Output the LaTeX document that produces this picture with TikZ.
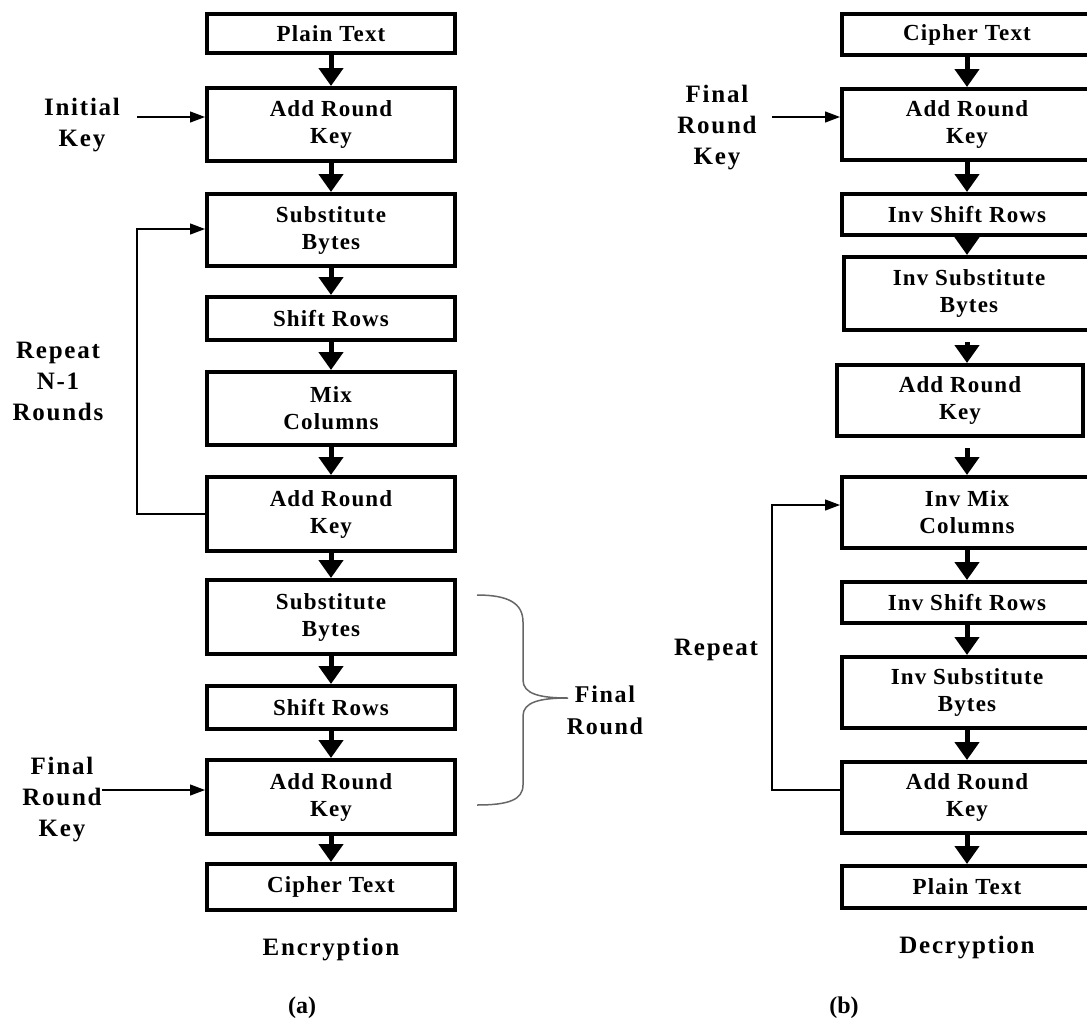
\documentclass[tikz,border=0pt]{standalone}
\usepackage{fontspec}
\setmainfont{Liberation Serif}
\newfontfamily\boxfont{Liberation Serif}[LetterSpace=5]
\newfontfamily\labfont{Liberation Serif}[LetterSpace=7]
\usetikzlibrary{arrows.meta}
\begin{document}
\begin{tikzpicture}[x=1pt,y=-1pt,
  stepbox/.style={draw, line width=4pt, minimum width=248pt, inner sep=0pt,
    align=center, font=\boxfont\bfseries\fontsize{23}{27}\selectfont},
  rbox/.style={stepbox, minimum width=250pt},
  flow/.style={line width=5pt, -{Triangle[width=24pt,length=18pt]}},
  feed/.style={line width=1.2pt, -{Triangle[width=11pt,length=15pt]}},
  lab/.style={align=center, font=\labfont\bfseries\fontsize{25}{31}\selectfont},
  subcap/.style={font=\bfseries\fontsize{24}{28}\selectfont},
  brace/.style={line width=1.5pt, draw=black!60},
]
\useasboundingbox (0,0) rectangle (1087,1026);

% ---------------- Encryption column ----------------
\node[stepbox, minimum height=39pt] (l1) at (331,33.5) {Plain Text};
\node[stepbox, minimum height=73pt] (l2) at (331,124.5) {Add Round\\Key};
\node[stepbox, minimum height=72pt] (l3) at (331,230) {Substitute\\Bytes};
\node[stepbox, minimum height=43pt] (l4) at (331,318.5) {Shift Rows};
\node[stepbox, minimum height=73pt] (l5) at (331,408.5) {Mix\\Columns};
\node[stepbox, minimum height=74pt] (l6) at (331,514) {Add Round\\Key};
\node[stepbox, minimum height=74pt] (l7) at (331,617) {Substitute\\Bytes};
\node[stepbox, minimum height=43pt] (l8) at (331,707.5) {Shift Rows};
\node[stepbox, minimum height=74pt] (l9) at (331,797) {Add Round\\Key};
\node[stepbox, minimum height=46pt] (l10) at (331,887) {Cipher Text};

\foreach \a/\b in {l1/l2,l2/l3,l3/l4,l4/l5,l5/l6,l6/l7,l7/l8,l8/l9,l9/l10}
  \draw[flow] (\a.south) -- (\b.north);

\node[lab] (ikey) at (82,125) {Initial\\Key};
\coordinate (ik) at (137,117);
\draw[feed] (ik) -- (ik -| l2.west);

\node[lab] (rep1) at (58,381) {Repeat\\N-1\\Rounds};
\coordinate (ll1) at (137,514);
\coordinate (ll2) at (137,229);
\draw[feed] (ll1 -| l6.west) -- (ll1) -- (ll2) -- (ll2 -| l3.west);

\node[lab] (fkl) at (62,800) {Final\\Round\\Key};
\coordinate (fk) at (102,790);
\draw[feed] (fk) -- (fk -| l9.west);

% brace grouping the final round
\draw[brace] (477,595) .. controls (508,595) and (523,603) .. (523,622)
  -- (523,680) .. controls (523,694) and (540,698) .. (568,698)
  .. controls (540,698) and (523,702) .. (523,716)
  -- (523,785) .. controls (523,800) and (508,805) .. (477,805);
\node[lab, font=\labfont\bfseries\fontsize{24}{32}\selectfont] (frnd) at (605,710) {Final\\Round};

\node[lab] (enc) at (331,950) {Encryption};
\node[subcap] (capa) at (302,1008) {(a)};

% ---------------- Decryption column ----------------
\node[rbox, minimum height=41pt] (r1) at (967,34.5) {Cipher Text};
\node[rbox, minimum height=71pt] (r2) at (967,124.5) {Add Round\\Key};
\node[rbox, minimum height=41pt] (r3) at (967,214.5) {Inv Shift Rows};
\node[rbox, minimum height=73pt] (r4) at (969,293.5) {Inv Substitute\\Bytes};
\node[stepbox, minimum height=71pt, minimum width=246pt] (r5) at (960,400.5) {Add Round\\Key};
\node[rbox, minimum height=71pt] (r6) at (967,512.5) {Inv Mix\\Columns};
\node[rbox, minimum height=41pt] (r7) at (967,602.5) {Inv Shift Rows};
\node[rbox, minimum height=71pt] (r8) at (967,692.5) {Inv Substitute\\Bytes};
\node[rbox, minimum height=71pt] (r9) at (967,797.5) {Add Round\\Key};
\node[rbox, minimum height=42pt] (r10) at (967,887) {Plain Text};

\foreach \a/\b in {r1/r2,r2/r3,r3/r4,r6/r7,r7/r8,r8/r9,r9/r10}
  \draw[flow] (\a.south -| r1) -- (\b.north -| r1);
\draw[flow, shorten <=10pt] (r4.south -| r1) -- (r5.north -| r1);
\draw[flow, shorten <=10pt] (r5.south -| r1) -- (r6.north -| r1);

\node[lab] (fkr) at (717,128) {Final\\Round\\Key};
\coordinate (fr) at (772,117);
\draw[feed] (fr) -- (fr -| r2.west);

\node[lab] (rep2) at (716,650) {Repeat};
\coordinate (rl1) at (772,790);
\coordinate (rl2) at (772,505);
\draw[feed] (rl1 -| r9.west) -- (rl1) -- (rl2) -- (rl2 -| r6.west);

\node[lab] (dec) at (967,948) {Decryption};
\node[subcap] (capb) at (844,1008) {(b)};
\end{tikzpicture}
\end{document}
